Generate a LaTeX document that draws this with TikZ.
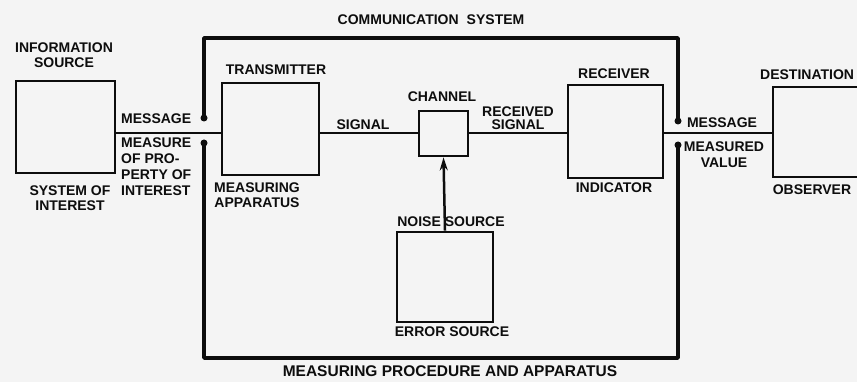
\documentclass[tikz,border=0pt]{standalone}
\usepackage{fontspec}
\setmainfont{Liberation Sans}
\usetikzlibrary{arrows.meta}
\definecolor{bg}{HTML}{F4F4F4}
\definecolor{ink}{HTML}{0D0D0D}
\begin{document}
\begin{tikzpicture}[x=1pt,y=-1pt,
  every node/.style={text=ink},
  lbl/.style={font=\bfseries\fontsize{14}{15}\selectfont, inner sep=0pt, align=center},
  blk/.style={draw=ink, line width=2.8pt, inner sep=0pt},
  frame/.style={draw=ink, line width=3.5pt, line join=round},
  wire/.style={draw=ink, line width=2.5pt},
  enddot/.style={circle, fill=ink, inner sep=0pt, minimum size=7pt}]
\fill[bg] (0,0) rectangle (857,382);
\useasboundingbox (0,0) rectangle (857,382);

% blocks
\node[blk, minimum width=99pt, minimum height=92pt] (src) at (65.5,127) {};
\node[blk, minimum width=97pt, minimum height=92pt] (trans) at (270.5,129) {};
\node[blk, minimum width=49pt, minimum height=45pt] (chan) at (443.5,133.5) {};
\node[blk, minimum width=95pt, minimum height=93pt] (recv) at (615.5,131.5) {};
\node[blk, minimum width=100pt, minimum height=90pt] (dest) at (823,132) {};
\node[blk, minimum width=96pt, minimum height=90pt] (err) at (445,277) {};

% frame
\coordinate (fl1) at (204,118);
\coordinate (fl2) at (204,143);
\coordinate (fr1) at (678,121);
\coordinate (fr2) at (678,145);
\draw[frame] (fl1) -- (204,38) -- (678,38) -- (fr1);
\draw[frame] (fl2) -- (204,358) -- (678,358) -- (fr2);
\node[enddot] (d1) at (fl1) {};
\node[enddot] (d2) at (fl2) {};
\node[enddot] (d3) at (fr1) {};
\node[enddot] (d4) at (fr2) {};

% connectors
\coordinate (ly) at (0,133);
\draw[wire] (src.east |- ly) -- (trans.west |- ly);
\draw[wire] (trans.east |- ly) -- (chan.west |- ly);
\draw[wire] (chan.east |- ly) -- (recv.west |- ly);
\draw[wire] (recv.east |- ly) -- (dest.west |- ly);
\draw[wire, -{Stealth[length=13pt,width=8pt]}] (err.north) -- (chan.south);

% labels
\node[lbl] (t1) at (64,55.5) {INFORMATION\\SOURCE};
\node[lbl] (t2) at (70,198.5) {SYSTEM OF\\INTEREST};
\node[lbl, anchor=west] (t3) at (121,119) {MESSAGE};
\node[lbl, anchor=north west, align=left, font=\bfseries\fontsize{14}{16}\selectfont] (t4) at (121,138) {MEASURE\\OF PRO-\\PERTY OF\\INTEREST};
\node[lbl] (t5) at (431,20) {COMMUNICATION\hspace{8pt}SYSTEM};
\node[lbl] (t6) at (276,70) {TRANSMITTER};
\node[lbl] (t7) at (257,195.5) {MEASURING\\APPARATUS};
\node[lbl] (t8) at (363,125) {SIGNAL};
\node[lbl] (t9) at (442,97) {CHANNEL};
\node[lbl, font=\bfseries\fontsize{14}{13}\selectfont] (t10) at (518,118.5) {RECEIVED\\SIGNAL};
\node[lbl] (t11) at (614,74) {RECEIVER};
\node[lbl] (t12) at (614,188) {INDICATOR};
\node[lbl] (t13) at (722,123) {MESSAGE};
\node[lbl, font=\bfseries\fontsize{14}{16}\selectfont] (t14) at (724,155) {MEASURED\\VALUE};
\node[lbl, anchor=west] (t15) at (760,75) {DESTINATION};
\node[lbl] (t16) at (812,190) {OBSERVER};
\node[lbl] (t17) at (451,222) {NOISE SOURCE};
\node[lbl] (t18) at (452,332) {ERROR SOURCE};
\node[lbl, font=\bfseries\fontsize{15.5}{18}\selectfont] (t19) at (450,371.5) {MEASURING PROCEDURE AND APPARATUS};
\end{tikzpicture}
\end{document}
